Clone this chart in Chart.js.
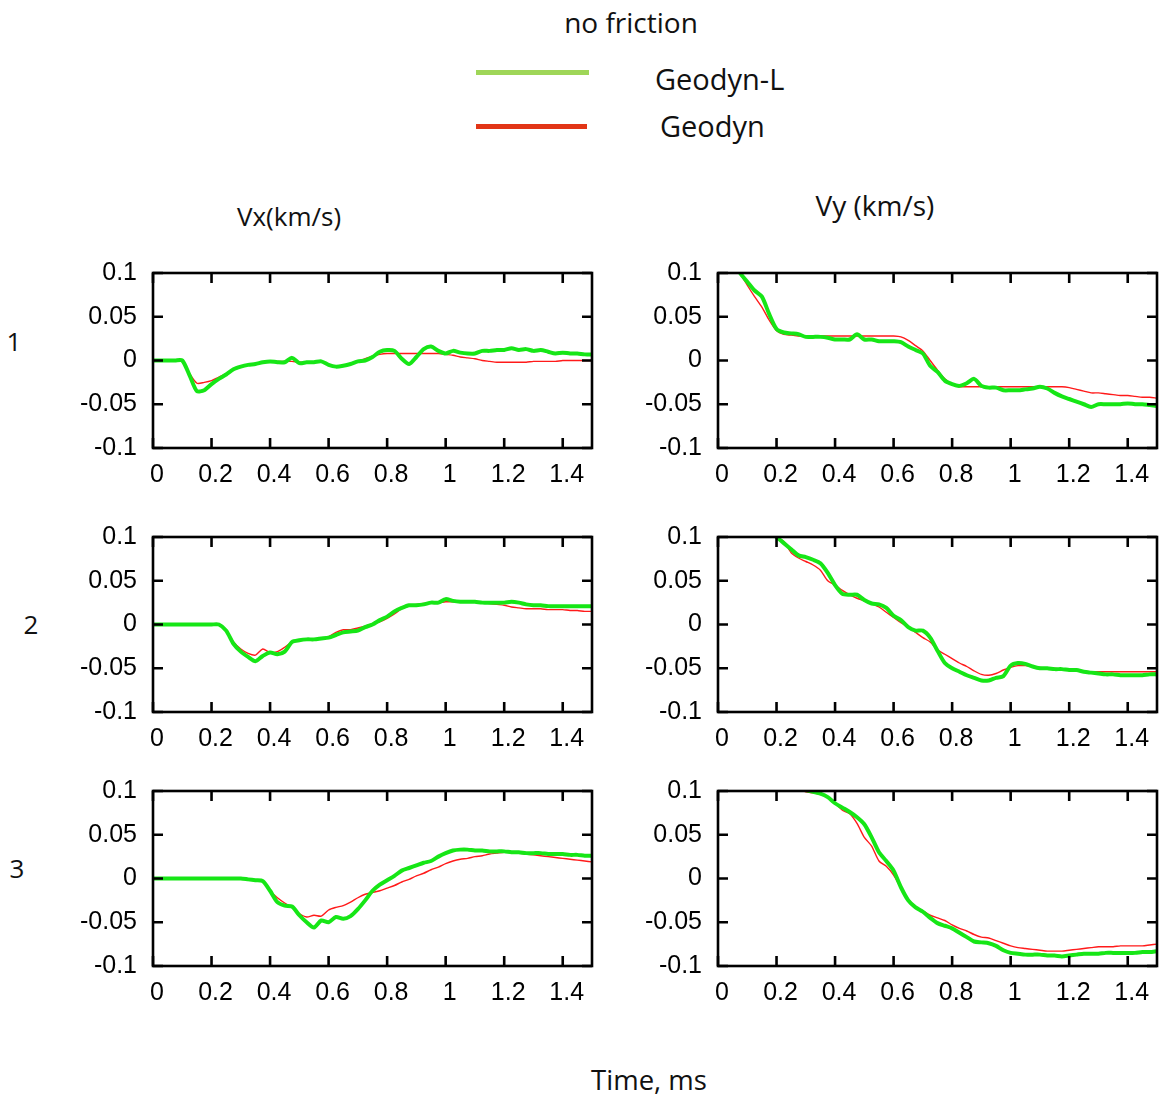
<!DOCTYPE html>
<html lang="en">
<head>
  <meta charset="UTF-8" />
  <title>no friction - Vx / Vy</title>
  <script src="https://cdn.jsdelivr.net/npm/chart.js"></script>
  <style>
    body { margin: 0; background: #fff; }
    #page { position: relative; width: 1159px; height: 1099px; background: #fff; overflow: hidden; }
    .lbl { position: absolute; font-family: "Open Sans", sans-serif; color: #111; line-height: 1; white-space: nowrap; transform: translate(-50%, -50%); }
    .left { transform: translate(0, -50%); }
    .swatch { position: absolute; height: 5px; }
    canvas { position: absolute; }
  </style>
</head>
<body>
  <div id="page">
    <div class="lbl" style="left:631px; top:22px; font-size:28px;">no friction</div>

    <!-- legend -->
    <div class="swatch" style="left:476px; top:70px; width:113px; background:#9fd658;"></div>
    <div class="lbl left" style="left:655px; top:78px; font-size:29px;">Geodyn-L</div>
    <div class="swatch" style="left:476px; top:124px; width:111px; background:#e23516;"></div>
    <div class="lbl left" style="left:660px; top:125px; font-size:29px;">Geodyn</div>

    <div class="lbl" style="left:289px; top:216px; font-size:26px;">Vx(km/s)</div>
    <div class="lbl" style="left:875px; top:205px; font-size:28px;">Vy (km/s)</div>

    <div class="lbl" style="left:14px; top:341px; font-size:26px;">1</div>
    <div class="lbl" style="left:31px; top:624px; font-size:26px;">2</div>
    <div class="lbl" style="left:17px; top:868px; font-size:26px;">3</div>

    <div class="lbl" style="left:649px; top:1080px; font-size:27.5px;">Time, ms</div>

    <canvas id="c1" width="525" height="256"></canvas>
    <canvas id="c2" width="525" height="256"></canvas>
    <canvas id="c3" width="525" height="256"></canvas>
    <canvas id="c4" width="525" height="256"></canvas>
    <canvas id="c5" width="525" height="256"></canvas>
    <canvas id="c6" width="525" height="256"></canvas>
  </div>

  <script>
    // time axis (ms)
    const time = [0,0.025,0.05,0.075,0.1,0.125,0.15,0.175,0.2,0.225,
      0.25,0.275,0.3,0.325,0.35,0.375,0.4,0.425,0.45,0.475,
      0.5,0.525,0.55,0.575,0.6,0.625,0.65,0.675,0.7,0.725,
      0.75,0.775,0.8,0.825,0.85,0.875,0.9,0.925,0.95,0.975,
      1,1.025,1.05,1.075,1.1,1.125,1.15,1.175,1.2,1.225,
      1.25,1.275,1.3,1.325,1.35,1.375,1.4,1.425,1.45,1.475,
      1.5];

    const xTicks = [0, 0.2, 0.4, 0.6, 0.8, 1, 1.2, 1.4];
    const xTickLabels = ['0', '0.2', '0.4', '0.6', '0.8', '1', '1.2', '1.4'];
    const yTicks = [-0.1, -0.05, 0, 0.05, 0.1];
    const yTickLabels = ['-0.1', '-0.05', '0', '0.05', '0.1'];

    // point 1
    const vx1GeodynL = [0,0,0,0,0,-0.017,-0.035,-0.034,-0.027,-0.021,
      -0.016,-0.010,-0.007,-0.005,-0.004,-0.002,-0.001,-0.002,-0.002,0.003,
      -0.003,-0.002,-0.002,-0.001,-0.005,-0.007,-0.006,-0.004,-0.001,0.000,
      0.004,0.010,0.012,0.011,0.002,-0.004,0.004,0.013,0.016,0.011,
      0.008,0.011,0.009,0.008,0.008,0.011,0.011,0.012,0.012,0.014,
      0.012,0.013,0.011,0.012,0.010,0.008,0.009,0.008,0.008,0.007,
      0.007];
    const vx1Geodyn = [0,0,0,0,0,-0.015,-0.026,-0.025,-0.023,-0.019,
      -0.015,-0.010,-0.007,-0.005,-0.004,-0.002,-0.001,-0.001,-0.001,-0.001,
      -0.002,-0.002,-0.002,-0.001,-0.005,-0.007,-0.006,-0.004,-0.001,0.002,
      0.005,0.007,0.008,0.008,0.008,0.008,0.008,0.008,0.008,0.008,
      0.007,0.006,0.004,0.003,0.002,0.000,-0.001,-0.002,-0.002,-0.002,
      -0.002,-0.002,-0.001,-0.001,-0.001,-0.001,0,0,0,0,
      0];
    const vy1GeodynL = [0.14,0.13,0.115,0.100,0.090,0.080,0.073,0.053,0.036,0.032,
      0.031,0.030,0.027,0.027,0.027,0.026,0.024,0.024,0.024,0.030,
      0.024,0.024,0.022,0.022,0.022,0.021,0.016,0.012,0.008,-0.006,
      -0.013,-0.023,-0.027,-0.029,-0.026,-0.021,-0.029,-0.031,-0.031,-0.034,
      -0.034,-0.034,-0.033,-0.032,-0.030,-0.032,-0.037,-0.041,-0.044,-0.047,
      -0.050,-0.053,-0.050,-0.050,-0.050,-0.050,-0.049,-0.050,-0.050,-0.051,
      -0.052];
    const vy1Geodyn = [0.14,0.13,0.115,0.100,0.086,0.073,0.061,0.046,0.034,0.030,
      0.029,0.028,0.028,0.028,0.028,0.028,0.028,0.028,0.028,0.028,
      0.028,0.028,0.028,0.028,0.028,0.027,0.023,0.017,0.011,0.000,
      -0.011,-0.021,-0.027,-0.030,-0.030,-0.030,-0.030,-0.030,-0.030,-0.030,
      -0.030,-0.030,-0.030,-0.030,-0.030,-0.030,-0.030,-0.030,-0.031,-0.033,
      -0.035,-0.037,-0.037,-0.038,-0.039,-0.040,-0.040,-0.041,-0.042,-0.042,
      -0.043];

    // point 2
    const vx2GeodynL = [0,0,0,0,0,0,0,0,0,0,
      -0.007,-0.022,-0.031,-0.037,-0.042,-0.036,-0.032,-0.034,-0.031,-0.020,
      -0.018,-0.017,-0.017,-0.016,-0.015,-0.012,-0.009,-0.008,-0.007,-0.003,
      0.000,0.005,0.009,0.015,0.019,0.022,0.022,0.023,0.025,0.025,
      0.029,0.027,0.026,0.026,0.026,0.025,0.025,0.025,0.025,0.026,
      0.025,0.023,0.022,0.022,0.021,0.021,0.021,0.021,0.021,0.021,
      0.021];
    const vx2Geodyn = [0,0,0,0,0,0,0,0,0,0,
      -0.006,-0.020,-0.028,-0.033,-0.035,-0.028,-0.032,-0.031,-0.026,-0.020,
      -0.018,-0.017,-0.017,-0.016,-0.014,-0.009,-0.006,-0.006,-0.004,-0.002,
      0.001,0.003,0.007,0.012,0.018,0.021,0.023,0.024,0.025,0.025,
      0.026,0.026,0.026,0.026,0.026,0.025,0.024,0.023,0.022,0.020,
      0.019,0.018,0.018,0.018,0.017,0.017,0.017,0.016,0.016,0.015,
      0.015];
    const vy2GeodynL = [0.16,0.152,0.145,0.137,0.13,0.122,0.115,0.107,0.100,0.093,
      0.086,0.079,0.077,0.074,0.070,0.059,0.045,0.035,0.034,0.034,
      0.028,0.024,0.023,0.019,0.010,0.005,-0.003,-0.007,-0.007,-0.015,
      -0.030,-0.044,-0.050,-0.054,-0.058,-0.061,-0.064,-0.064,-0.061,-0.059,
      -0.047,-0.044,-0.045,-0.048,-0.050,-0.050,-0.051,-0.051,-0.052,-0.052,
      -0.054,-0.055,-0.056,-0.057,-0.057,-0.058,-0.058,-0.058,-0.058,-0.057,
      -0.057];
    const vy2Geodyn = [0.16,0.152,0.145,0.137,0.13,0.122,0.115,0.107,0.100,0.095,
      0.082,0.076,0.072,0.068,0.062,0.050,0.045,0.039,0.034,0.030,
      0.027,0.024,0.020,0.014,0.008,0.002,-0.003,-0.009,-0.015,-0.020,
      -0.029,-0.034,-0.039,-0.044,-0.048,-0.053,-0.057,-0.058,-0.056,-0.052,
      -0.049,-0.047,-0.047,-0.048,-0.049,-0.050,-0.050,-0.051,-0.051,-0.052,
      -0.053,-0.054,-0.054,-0.054,-0.054,-0.054,-0.054,-0.054,-0.054,-0.054,
      -0.054];

    // point 3
    const vx3GeodynL = [0,0,0,0,0,0,0,0,0,0,
      0,0,0,-0.001,-0.002,-0.003,-0.014,-0.027,-0.031,-0.032,
      -0.042,-0.050,-0.056,-0.048,-0.050,-0.044,-0.046,-0.043,-0.035,-0.025,
      -0.014,-0.007,-0.002,0.003,0.009,0.012,0.015,0.018,0.020,0.025,
      0.029,0.032,0.033,0.033,0.032,0.032,0.031,0.031,0.031,0.030,
      0.030,0.029,0.029,0.029,0.028,0.028,0.028,0.027,0.027,0.026,
      0.026];
    const vx3Geodyn = [0,0,0,0,0,0,0,0,0,0,
      0,0,0,-0.001,-0.002,-0.003,-0.014,-0.022,-0.028,-0.033,
      -0.040,-0.044,-0.042,-0.043,-0.036,-0.033,-0.031,-0.027,-0.022,-0.018,
      -0.016,-0.014,-0.011,-0.008,-0.004,-0.001,0.003,0.006,0.010,0.013,
      0.017,0.020,0.022,0.023,0.025,0.026,0.028,0.029,0.030,0.030,
      0.029,0.028,0.027,0.026,0.025,0.024,0.023,0.022,0.021,0.020,
      0.019];
    const vy3GeodynL = [0.2,0.19,0.18,0.17,0.16,0.15,0.14,0.13,0.12,0.112,
      0.107,0.104,0.101,0.099,0.097,0.093,0.086,0.081,0.076,0.070,
      0.062,0.047,0.030,0.020,0.009,-0.010,-0.025,-0.033,-0.038,-0.045,
      -0.051,-0.054,-0.057,-0.062,-0.067,-0.072,-0.073,-0.074,-0.077,-0.082,
      -0.085,-0.086,-0.087,-0.087,-0.087,-0.088,-0.088,-0.089,-0.088,-0.087,
      -0.086,-0.086,-0.086,-0.085,-0.085,-0.085,-0.085,-0.085,-0.084,-0.084,
      -0.083];
    const vy3Geodyn = [0.2,0.19,0.18,0.17,0.16,0.15,0.14,0.13,0.12,0.11,
      0.106,0.103,0.099,0.098,0.096,0.093,0.086,0.078,0.074,0.063,
      0.047,0.037,0.020,0.014,0.004,-0.011,-0.024,-0.032,-0.037,-0.042,
      -0.045,-0.048,-0.053,-0.057,-0.060,-0.064,-0.067,-0.068,-0.071,-0.074,
      -0.077,-0.079,-0.080,-0.081,-0.082,-0.083,-0.083,-0.083,-0.082,-0.081,
      -0.080,-0.079,-0.078,-0.078,-0.078,-0.077,-0.077,-0.077,-0.077,-0.076,
      -0.075];

    Chart.defaults.font.family = '"Liberation Sans", Arial, sans-serif';
    Chart.defaults.font.size = 25;
    Chart.defaults.color = '#000';

    // black box with inward ticks on all four sides
    const frame = {
      id: 'frame',
      afterDatasetsDraw(chart) {
        const { ctx, chartArea: a, scales: { x, y } } = chart;
        ctx.save();
        ctx.strokeStyle = '#000';
        ctx.lineWidth = 2.6;
        ctx.beginPath();
        x.ticks.forEach(t => {
          const px = x.getPixelForValue(t.value);
          ctx.moveTo(px, a.bottom); ctx.lineTo(px, a.bottom - 10);
          ctx.moveTo(px, a.top); ctx.lineTo(px, a.top + 10);
        });
        y.ticks.forEach(t => {
          const py = y.getPixelForValue(t.value);
          ctx.moveTo(a.left, py); ctx.lineTo(a.left + 10, py);
          ctx.moveTo(a.right, py); ctx.lineTo(a.right - 10, py);
        });
        ctx.stroke();
        ctx.strokeRect(a.left, a.top, a.right - a.left, a.bottom - a.top);
        ctx.restore();
      }
    };

    // plot box tops in page pixels
    function makePanel(id, left, boxTop, geodynL, geodyn) {
      const cv = document.getElementById(id);
      cv.style.left = left + 'px';
      const chart = new Chart(cv, {
        type: 'line',
        data: {
          labels: time,
          datasets: [
            { label: 'Geodyn-L', data: geodynL, borderColor: '#16e616', borderWidth: 4, pointRadius: 0, tension: 0.25 },
            { label: 'Geodyn', data: geodyn, borderColor: '#ff1a1a', borderWidth: 1.4, pointRadius: 0, tension: 0.25 }
          ]
        },
        options: {
          responsive: false,
          devicePixelRatio: 1,
          animation: false,
          layout: { padding: { top: 0, right: 6, left: 0, bottom: 0 } },
          plugins: { legend: { display: false }, tooltip: { enabled: false } },
          scales: {
            x: {
              type: 'linear', min: 0, max: 1.5,
              grid: { display: false, drawTicks: false },
              border: { display: false },
              afterBuildTicks: s => { s.ticks = xTicks.map(v => ({ value: v })); },
              afterFit: s => { s.height = 50; },
              ticks: { padding: 12, labelOffset: 4, maxRotation: 0, autoSkip: false,
                       callback: (v, i) => xTickLabels[i] }
            },
            y: {
              min: -0.1, max: 0.1,
              grid: { display: false, drawTicks: false },
              border: { display: false },
              afterBuildTicks: s => { s.ticks = yTicks.map(v => ({ value: v })); },
              afterFit: s => { s.width = 80; },
              ticks: { padding: 16, autoSkip: false, callback: (v, i) => yTickLabels[i] }
            }
          }
        },
        plugins: [frame]
      });
      cv.style.top = (boxTop - chart.chartArea.top) + 'px';
      return chart;
    }

    makePanel('c1', 73, 273, vx1GeodynL, vx1Geodyn);
    makePanel('c2', 638, 273, vy1GeodynL, vy1Geodyn);
    makePanel('c3', 73, 537, vx2GeodynL, vx2Geodyn);
    makePanel('c4', 638, 537, vy2GeodynL, vy2Geodyn);
    makePanel('c5', 73, 791, vx3GeodynL, vx3Geodyn);
    makePanel('c6', 638, 791, vy3GeodynL, vy3Geodyn);
  </script>
</body>
</html>
